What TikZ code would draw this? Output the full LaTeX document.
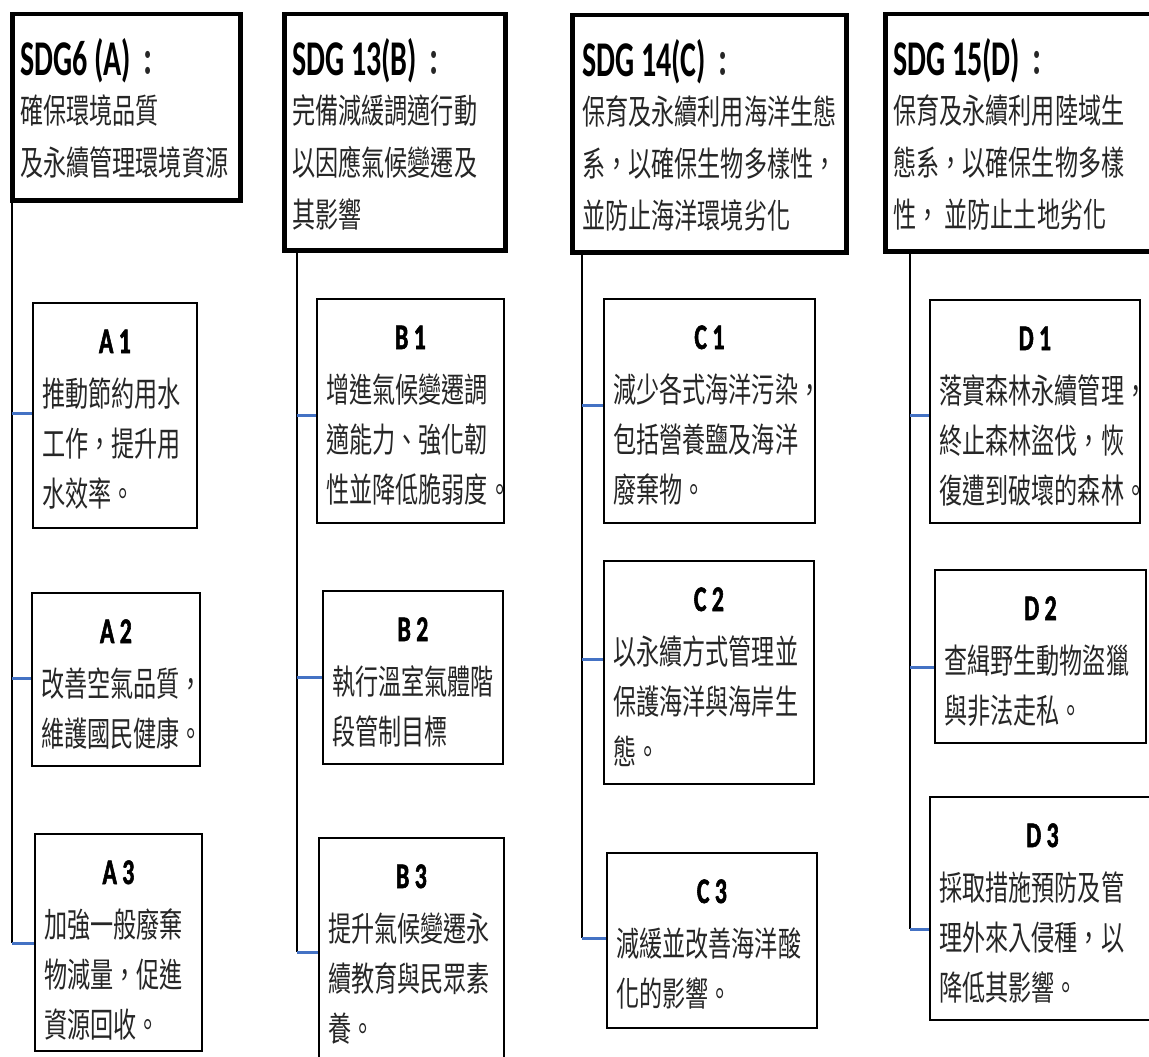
\documentclass[tikz,border=0pt]{standalone}
\usepackage{fontspec}
\newfontfamily\cjk[FakeStretch=0.68]{Noto Sans CJK TC}
\newfontfamily\sdgfont[FakeStretch=0.6]{Carlito}
\newfontfamily\tagfont[FakeStretch=0.66, FakeBold=1.5]{Carlito}
\definecolor{linkblue}{RGB}{68,114,196}

\tikzset{
    goalbox/.style={draw, line width=4.5pt, inner sep=0pt, anchor=north west},
    itembox/.style={draw, line width=1.8pt, inner sep=0pt, anchor=north west},
    goaltext/.style={font=\cjk\fontsize{34}{52}\selectfont, text=black!85, inner sep=0pt, anchor=base west},
    itemtag/.style={font=\tagfont\bfseries\fontsize{36}{36}\selectfont, inner sep=0pt, anchor=base},
    itemtext/.style={font=\cjk\fontsize{34}{50}\selectfont, text=black!85, inner sep=0pt, anchor=base west},
    trunk/.style={line width=2pt},
    branch/.style={linkblue, line width=3pt},
}
% lines stacked from the first baseline down
\newcommand{\stacklines}[1]{\begin{tabular}[t]{@{}l@{}}#1\end{tabular}}
\newcommand{\sdgtitle}[1]{{\sdgfont\bfseries\fontsize{50}{50}\selectfont\color{black}#1}}
% name, x, y, width, height, tag, text
\newcommand{\targetbox}[7]{%
    \node[itembox, minimum width=#4pt, minimum height=#5pt] (#1) at (#2,#3) {};
    \node[itemtag] (#1-tag) at ([shift={(0,51)}]#1.north) {#6};
    \node[itemtext] (#1-txt) at ([shift={(10,104)}]#1.north west) {\stacklines{#7}};
}

\begin{document}
\begin{tikzpicture}[x=1pt, y=-1pt]

    % Page frame
    \path[use as bounding box, fill=white] (0,0) rectangle (1149,1057);
    \clip (0,0) rectangle (1149,1057);

    % Goal boxes on top
    \node[goalbox, minimum width=228pt, minimum height=186pt] (hA) at (10,12) {};
    \node[goalbox, minimum width=221pt, minimum height=236pt] (hB) at (282,12) {};
    \node[goalbox, minimum width=274pt, minimum height=237pt] (hC) at (570,13) {};
    \node[goalbox, minimum width=280pt, minimum height=237pt] (hD) at (883,12) {};

    \node[goaltext] (tA) at ([shift={(10,64)}]hA.north west)
        {\stacklines{\sdgtitle{SDG6 (A)}\,\textbf{：}\\[-4pt]確保環境品質\\及永續管理環境資源}};
    \node[goaltext] (tB) at ([shift={(10,64)}]hB.north west)
        {\stacklines{\sdgtitle{SDG 13(B)}\,\textbf{：}\\[-4pt]完備減緩調適行動\\以因應氣候變遷及\\其影響}};
    \node[goaltext] (tC) at ([shift={(12,64)}]hC.north west)
        {\stacklines{\sdgtitle{SDG 14(C)}\ \textbf{：}\\[-4pt]保育及永續利用海洋生態\\系，以確保生物多樣性，\\並防止海洋環境劣化}};
    \node[goaltext] (tD) at ([shift={(10,64)}]hD.north west)
        {\stacklines{\sdgtitle{SDG 15(D)}\ \textbf{：}\\[-4pt]保育及永續利用陸域生\\態系，以確保生物多樣\\性， 並防止土地劣化}};

    % Target boxes
    \targetbox{a1}{32}{302}{164}{225}{A 1}{推動節約用水\\工作，提升用\\水效率。}
    \targetbox{a2}{31}{592}{168}{173}{A 2}{改善空氣品質，\\維護國民健康。}
    \targetbox{a3}{34}{833}{167}{217}{A 3}{加強一般廢棄\\物減量，促進\\資源回收。}
    \targetbox{b1}{316}{298}{187}{224}{B 1}{增進氣候變遷調\\適能力、強化韌\\性並降低脆弱度。}
    \targetbox{b2}{322}{590}{180}{173}{B 2}{執行溫室氣體階\\段管制目標}
    \targetbox{b3}{318}{837}{185}{230}{B 3}{提升氣候變遷永\\續教育與民眾素\\養。}
    \targetbox{c1}{603}{298}{211}{224}{C 1}{減少各式海洋污染，\\包括營養鹽及海洋\\廢棄物。}
    \targetbox{c2}{603}{560}{210}{223}{C 2}{以永續方式管理並\\保護海洋與海岸生\\態。}
    \targetbox{c3}{606}{852}{210}{175}{C 3}{減緩並改善海洋酸\\化的影響。}
    \targetbox{d1}{929}{299}{210}{223}{D 1}{落實森林永續管理，\\終止森林盜伐，恢\\復遭到破壞的森林。}
    \targetbox{d2}{934}{569}{211}{173}{D 2}{查緝野生動物盜獵\\與非法走私。}
    \targetbox{d3}{929}{796}{225}{223}{D 3}{採取措施預防及管\\理外來入侵種，以\\降低其影響。}

    % Trunk lines
    \coordinate (eA) at (12,943);
    \coordinate (eB) at (297,952);
    \coordinate (eC) at (582,938);
    \coordinate (eD) at (910,929);
    \draw[trunk] (hA.south -| eA) -- (eA);
    \draw[trunk] (hB.south -| eB) -- (eB);
    \draw[trunk] (hC.south -| eC) -- (eC);
    \draw[trunk] (hD.south -| eD) -- (eD);

    % Branches to the targets
    \foreach \k/\e/\dy in {a1/eA/-2, a2/eA/-1, a3/eA/1.5,
                           b1/eB/5, b2/eB/0, b3/eB/0,
                           c1/eC/-5, c2/eC/-13, c3/eC/-1.5,
                           d1/eD/4.5, d2/eD/11.5, d3/eD/21.5}{
        \path ([shift={(0,\dy)}]\k.west) coordinate (\k-in);
        \draw[branch] (\e |- \k-in) -- (\k-in);
    }

\end{tikzpicture}
\end{document}
